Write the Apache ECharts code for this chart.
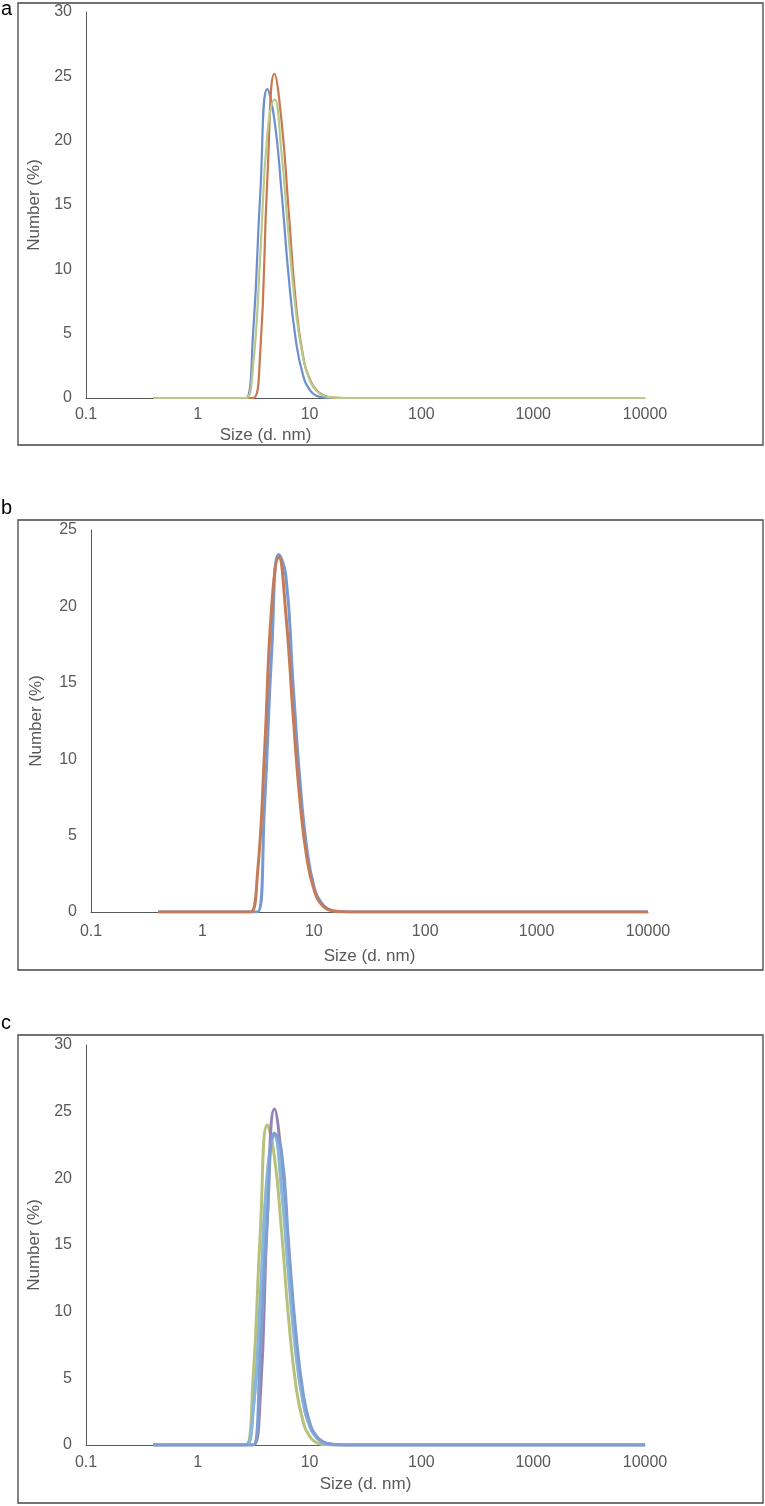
<!DOCTYPE html>
<html>
<head>
<meta charset="utf-8">
<script src="https://cdn.jsdelivr.net/npm/echarts@6/dist/echarts.min.js"></script>
<style>
html,body{margin:0;padding:0;background:#fff;}
#chart{width:765px;height:1506px;}
</style>
</head>
<body>
<div id="chart"></div>
<script>
// Size bins (d. nm)
const sizes = [0.4,0.4632,0.5365,0.6213,0.7195,0.8332,0.9649,1.117,1.294,1.499,1.736,2.01,2.328,2.696,3.122,3.615,4.187,4.849,5.615,6.503,7.531,8.721,10.1,11.7,13.54,15.69,18.17,21.04,24.36,28.21,32.67,37.84,43.82,50.75,58.77,68.06,78.82,91.28,105.7,122.4,141.8,164.2,190.1,220.2,255,295.3,342,396.1,458.7,531.2,615.1,712.4,825,955.4,1106,1281,1484,1718,1990,2305,2669,3091,3580,4145,4801,5560,6439,7456,8635,10000];

const xTickLabels = ['0.1','1','10','100','1000','10000'];
const yTicksA = [0,5,10,15,20,25,30];
const yTicksB = [0,5,10,15,20,25];
const yTicksC = [0,5,10,15,20,25,30];

// Panel a
const a1 = [0,0,0,0,0,0,0,0,0,0,0,0,0,0,5.0,15.8,24.0,21.6,16.0,9.4,4.5,1.8,0.6,0.15,0.03,0,0,0,0,0,0,0,0,0,0,0,0,0,0,0,0,0,0,0,0,0,0,0,0,0,0,0,0,0,0,0,0,0,0,0,0,0,0,0,0,0,0,0,0,0];
const a2 = [0,0,0,0,0,0,0,0,0,0,0,0,0,0,0,3.5,17.0,25.2,21.5,14.5,7.4,3.3,1.4,0.55,0.18,0.05,0.01,0,0,0,0,0,0,0,0,0,0,0,0,0,0,0,0,0,0,0,0,0,0,0,0,0,0,0,0,0,0,0,0,0,0,0,0,0,0,0,0,0,0,0];
const a3 = [0,0,0,0,0,0,0,0,0,0,0,0,0,0,2.5,11.0,20.5,23.2,19.0,12.5,6.8,3.2,1.3,0.5,0.15,0.05,0.01,0,0,0,0,0,0,0,0,0,0,0,0,0,0,0,0,0,0,0,0,0,0,0,0,0,0,0,0,0,0,0,0,0,0,0,0,0,0,0,0,0,0,0];
// Panel b
const b1 = [0,0,0,0,0,0,0,0,0,0,0,0,0,0,0,7.0,17.0,23.4,22.0,15.0,8.5,4.0,1.6,0.6,0.2,0.06,0.01,0,0,0,0,0,0,0,0,0,0,0,0,0,0,0,0,0,0,0,0,0,0,0,0,0,0,0,0,0,0,0,0,0,0,0,0,0,0,0,0,0,0,0];
const b2 = [0,0,0,0,0,0,0,0,0,0,0,0,0,0,2.5,10.5,20.0,23.2,19.5,13.0,7.2,3.4,1.4,0.5,0.15,0.04,0.01,0,0,0,0,0,0,0,0,0,0,0,0,0,0,0,0,0,0,0,0,0,0,0,0,0,0,0,0,0,0,0,0,0,0,0,0,0,0,0,0,0,0,0];
// Panel c
const c1 = a1, c2 = a2, c3 = a3, c4 = b2, c5 = b1;

const pairs = v => sizes.map((s,i)=>[s,v[i]]);

const panels = [
  {left:86, right:645, top:12, bottom:398, ticks:yTicksA, letter:'a', letterY:19, box:[18,3,763,445], series:[[a1,'#6d8fcd'],[a2,'#c8784f'],[a3,'#b8c98c']], lw:2.2, nameShift:200, xMargin:9, xGap:29, yGap:40},
  {left:91, right:648, top:530, bottom:912, ticks:yTicksB, letter:'b', letterY:518, box:[18,520,763,970], series:[[b1,'#7898d2'],[b2,'#c47b58']], lw:3, nameShift:0, xMargin:12, xGap:36, yGap:46},
  {left:86, right:645, top:1045, bottom:1445, ticks:yTicksC, letter:'c', letterY:1033, box:[18,1035,763,1503], series:[[c1,'#b6c27c'],[c2,'#9583b5'],[c3,'#a3b8c9'],[c4,'#86b6db'],[c5,'#7f9fd3']], lw:3, nameShift:0, xMargin:10, xGap:31, yGap:40}
];

const FONT = 'Liberation Sans, Arial, sans-serif';
const W = 765, H = 1506;
const option = {animation:false, backgroundColor:'#fff', grid:[], xAxis:[], yAxis:[], series:[], graphic:[]};
panels.forEach((p,k)=>{
  option.grid.push({left:p.left, top:p.top, width:p.right-p.left, height:p.bottom-p.top});
  option.xAxis.push({
    gridIndex:k, type:'log', logBase:10, min:0.1, max:10000,
    axisLine:{show:true, lineStyle:{color:'#595959', width:1}},
    axisTick:{show:false}, splitLine:{show:false},
    axisLabel:{color:'#595959', fontFamily:FONT, fontSize:16, margin:p.xMargin,
      formatter:(v)=>{const i=Math.round(Math.log10(v))+1; return xTickLabels[i]!==undefined?xTickLabels[i]:'';}},
    name:'Size (d. nm)', nameLocation:'middle', nameGap:p.xGap,
    nameTextStyle:{color:'#595959', fontFamily:FONT, fontSize:17, padding:[0,p.nameShift,0,0]}
  });
  const ticks = p.ticks;
  option.yAxis.push({
    gridIndex:k, type:'value', min:ticks[0], max:ticks[ticks.length-1], interval:5,
    axisLine:{show:true, lineStyle:{color:'#595959', width:1}},
    axisTick:{show:false}, splitLine:{show:false},
    axisLabel:{color:'#595959', fontFamily:FONT, fontSize:16, margin:14},
    name:'Number (%)', nameLocation:'middle', nameGap:p.yGap, nameRotate:90,
    nameTextStyle:{color:'#595959', fontFamily:FONT, fontSize:17}
  });
  p.series.forEach(([d,c])=>{
    option.series.push({type:'line', xAxisIndex:k, yAxisIndex:k, data:pairs(d), smooth:0.5,
      showSymbol:false, symbol:'none', lineStyle:{color:c, width:p.lw}, itemStyle:{color:c}, z:3});
  });
  const b = p.box;
  option.graphic.push({type:'rect', shape:{x:b[0], y:b[1], width:b[2]-b[0], height:b[3]-b[1]},
    style:{fill:'none', stroke:'#444', lineWidth:1.3}, z:1, silent:true});
  option.graphic.push({type:'text', x:1, y:p.letterY, style:{text:p.letter, fill:'#000', font:'20px "Liberation Sans", Arial', textVerticalAlign:'bottom'}, z:1});
});
const chart = echarts.init(document.getElementById('chart'), null, {renderer:'canvas', width:W, height:H});
chart.setOption(option);
</script>
</body>
</html>
